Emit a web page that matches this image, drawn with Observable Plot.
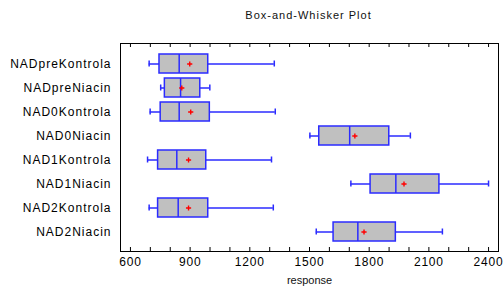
<!DOCTYPE html>
<html>
<head>
<meta charset="utf-8">
<script src="https://cdn.jsdelivr.net/npm/d3@7"></script>
<script src="https://cdn.jsdelivr.net/npm/@observablehq/plot@0.6"></script>
<style>
  body { margin: 0; background: #fff; width: 503px; height: 291px; overflow: hidden; font-family: "Liberation Sans", Arial, sans-serif; }
  #title { position: absolute; left: 0; top: 0; width: 617px; height: 30px; text-align: center; font-size: 11px; letter-spacing: 1px; line-height: 30px; color: #111; }
  #chart { position: absolute; left: 0; top: 30px; }
  #chart svg g[aria-label="y-axis tick label"] text { letter-spacing: 1px; }
  #chart svg g[aria-label="x-axis tick label"] text { letter-spacing: 0.8px; }
</style>
</head>
<body>
<div id="title">Box-and-Whisker Plot</div>
<div id="chart"></div>
<script>
const categories = ["NADpreKontrola", "NADpreNiacin", "NAD0Kontrola", "NAD0Niacin", "NAD1Kontrola", "NAD1Niacin", "NAD2Kontrola", "NAD2Niacin"];
const minVals    = [694, 752, 699, 1502, 686, 1708, 694, 1534];
const q1Vals     = [746, 773, 752, 1549, 739, 1807, 739, 1621];
const medianVals = [845, 852, 845, 1702, 833, 1934, 840, 1743];
const meanVals   = [898, 858, 903, 1728, 892, 1975, 892, 1774];
const q3Vals     = [991, 951, 999, 1901, 981, 2153, 991, 1934];
const maxVals    = [1323, 999, 1328, 2007, 1309, 2400, 1318, 2168];
const xTickLabels = [600, 900, 1200, 1500, 1800, 2100, 2400];
const xMinorTicks = d3.range(600, 2401, 100);

const rows = categories.map((c, i) => ({
  cat: c, min: minVals[i], q1: q1Vals[i], median: medianVals[i],
  mean: meanVals[i], q3: q3Vals[i], max: maxVals[i]
}));

const blue = "#2b2bff";
const frameH = 208;

const chart = Plot.plot({
  width: 503,
  height: 261,
  marginTop: 13,
  marginBottom: 40,
  marginLeft: 120,
  marginRight: 5,
  style: { fontFamily: "'Liberation Sans', Arial, sans-serif", fontSize: "12px", color: "#000", background: "#fff" },
  x: { domain: [550, 2450] },
  y: { type: "band", domain: categories, paddingInner: 0.22, paddingOuter: 0.39 },
  marks: [
    Plot.axisX({ ticks: xTickLabels, tickSize: 0, tickPadding: 6, label: null, tickFormat: d => String(d), fontSize: 12 }),
    Plot.axisY({ tickSize: 0, tickPadding: 9, label: null, fontSize: 12 }),
    Plot.ruleX(xMinorTicks, { x: d => d, insetTop: frameH - 4, stroke: "#000" }),
    Plot.ruleX(xMinorTicks, { x: d => d, insetBottom: frameH - 4, stroke: "#000" }),
    Plot.ruleY(rows, { y: "cat", x1: "min", x2: "q1", stroke: blue, strokeWidth: 1.5 }),
    Plot.ruleY(rows, { y: "cat", x1: "q3", x2: "max", stroke: blue, strokeWidth: 1.5 }),
    Plot.tickX(rows, { x: "min", y: "cat", stroke: blue, strokeWidth: 1.5, insetTop: 6.5, insetBottom: 6.5 }),
    Plot.tickX(rows, { x: "max", y: "cat", stroke: blue, strokeWidth: 1.5, insetTop: 6.5, insetBottom: 6.5 }),
    Plot.barX(rows, { y: "cat", x1: "q1", x2: "q3", fill: "#c0c0c0", stroke: blue, strokeWidth: 1.5 }),
    Plot.tickX(rows, { x: "median", y: "cat", stroke: blue, strokeWidth: 1.5 }),
    Plot.dot(rows, { x: "mean", y: "cat", symbol: "plus", r: 1.8, stroke: "#ff0000", strokeWidth: 1.4 }),
    Plot.frame({ stroke: "#000" }),
    Plot.text(["response"], { frameAnchor: "bottom", dy: 32, fontSize: 11, fill: "#111", style: "letter-spacing:1px" })
  ]
});
document.getElementById("chart").appendChild(chart);
</script>
</body>
</html>
